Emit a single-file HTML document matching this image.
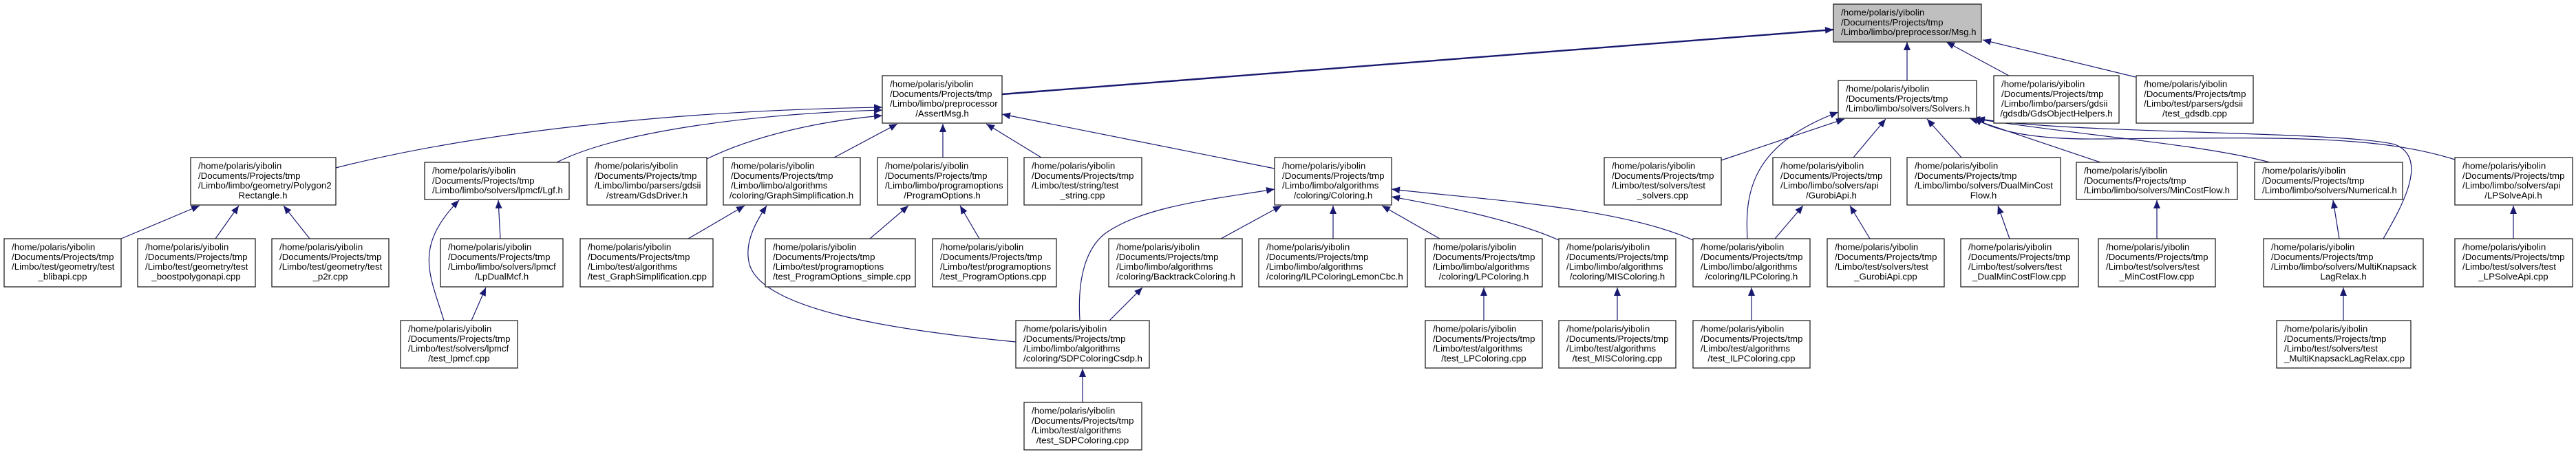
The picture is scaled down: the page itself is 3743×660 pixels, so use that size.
<!DOCTYPE html>
<html><head><meta charset="utf-8"><style>
html,body{margin:0;padding:0;background:#fff;}
svg{display:block;}
text{font-family:"Liberation Sans",Arial,sans-serif;font-size:13.3px;fill:#000;}
rect{fill:#fff;stroke:#222;stroke-width:1.3;}
path.e{fill:none;stroke:#191970;stroke-width:1.2;}
</style></head><body>
<svg width="3743" height="660" viewBox="0 0 3743 660" xmlns="http://www.w3.org/2000/svg">
<defs>
<marker id="a" markerUnits="userSpaceOnUse" markerWidth="12" markerHeight="10" refX="12" refY="5" orient="auto"><path d="M0,0 L12,5 L0,10 z" fill="#191970"/></marker>
</defs>
<g>
<path class="e" d="M1456,137 L2664,43" style="stroke-width:2.4" marker-end="url(#a)"/>
<path class="e" d="M2771,117 L2771,61" marker-end="url(#a)"/>
<path class="e" d="M2919,110 L2828,61" marker-end="url(#a)"/>
<path class="e" d="M3103,112 L2881,58" marker-end="url(#a)"/>
<path class="e" d="M488,244 C700,190 1000,160 1282,156" marker-end="url(#a)"/>
<path class="e" d="M809,236 C900,190 1100,165 1282,160" marker-end="url(#a)"/>
<path class="e" d="M1027,231 C1100,195 1200,175 1282,168" marker-end="url(#a)"/>
<path class="e" d="M1212,229 L1304,180" marker-end="url(#a)"/>
<path class="e" d="M1370,229 L1370,180" marker-end="url(#a)"/>
<path class="e" d="M1513,229 L1433,180" marker-end="url(#a)"/>
<path class="e" d="M1852,245 L1456,166" marker-end="url(#a)"/>
<path class="e" d="M176,347 L290,299" marker-end="url(#a)"/>
<path class="e" d="M313,347 L347,299" marker-end="url(#a)"/>
<path class="e" d="M450,347 L412,299" marker-end="url(#a)"/>
<path class="e" d="M727,347 L724,291" marker-end="url(#a)"/>
<path class="e" d="M645,466 C625,400 600,360 667,291" marker-end="url(#a)"/>
<path class="e" d="M685,466 L706,418" marker-end="url(#a)"/>
<path class="e" d="M1000,347 L1082,299" marker-end="url(#a)"/>
<path class="e" d="M1476,497 C1300,480 1100,450 1088,380 C1082,350 1100,320 1114,299" marker-end="url(#a)"/>
<path class="e" d="M1264,347 L1320,299" marker-end="url(#a)"/>
<path class="e" d="M1423,347 L1395,299" marker-end="url(#a)"/>
<path class="e" d="M1774,347 L1862,299" marker-end="url(#a)"/>
<path class="e" d="M1937,347 L1937,299" marker-end="url(#a)"/>
<path class="e" d="M2092,347 L2008,299" marker-end="url(#a)"/>
<path class="e" d="M2265,349 C2200,320 2100,300 2022,286" marker-end="url(#a)"/>
<path class="e" d="M2460,349 C2350,300 2150,290 2022,275" marker-end="url(#a)"/>
<path class="e" d="M1569,466 C1565,400 1580,360 1605,340 C1660,300 1760,290 1852,275" marker-end="url(#a)"/>
<path class="e" d="M1612,466 L1660,418" marker-end="url(#a)"/>
<path class="e" d="M1573,585 L1573,536" marker-end="url(#a)"/>
<path class="e" d="M2156,466 L2156,418" marker-end="url(#a)"/>
<path class="e" d="M2350,466 L2350,418" marker-end="url(#a)"/>
<path class="e" d="M2545,466 L2545,418" marker-end="url(#a)"/>
<path class="e" d="M2501,233 L2680,173" marker-end="url(#a)"/>
<path class="e" d="M2539,347 C2535,280 2545,210 2671,163" marker-end="url(#a)"/>
<path class="e" d="M2693,229 L2740,173" marker-end="url(#a)"/>
<path class="e" d="M2850,229 L2800,173" marker-end="url(#a)"/>
<path class="e" d="M3052,236 L2862,172" marker-end="url(#a)"/>
<path class="e" d="M3298,236 C3200,210 3050,200 2865,172" marker-end="url(#a)"/>
<path class="e" d="M3567,232 C3450,195 3300,200 3050,202 C2950,203 2900,190 2868,172" marker-end="url(#a)"/>
<path class="e" d="M3463,347 C3490,300 3530,230 3480,210 C3400,190 3000,195 2872,172" marker-end="url(#a)"/>
<path class="e" d="M2579,347 L2620,299" marker-end="url(#a)"/>
<path class="e" d="M2717,347 L2688,299" marker-end="url(#a)"/>
<path class="e" d="M2920,347 L2903,299" marker-end="url(#a)"/>
<path class="e" d="M3134,347 L3134,291" marker-end="url(#a)"/>
<path class="e" d="M3399,347 L3390,291" marker-end="url(#a)"/>
<path class="e" d="M3652,347 L3652,299" marker-end="url(#a)"/>
<path class="e" d="M3405,466 L3405,418" marker-end="url(#a)"/>
</g>

<!-- Row 0 -->
<rect x="2664" y="6" width="215" height="55" style="fill:#bfbfbf"/>
<text x="2675" y="22.5">/home/polaris/yibolin</text><text x="2675" y="36.8">/Documents/Projects/tmp</text><text x="2675" y="51.1">/Limbo/limbo/preprocessor/Msg.h</text>

<!-- Row 1 -->
<rect x="1282" y="110" width="174" height="69"/>
<text x="1293" y="126.5">/home/polaris/yibolin</text><text x="1293" y="140.8">/Documents/Projects/tmp</text><text x="1293" y="155.1">/Limbo/limbo/preprocessor</text><text x="1369" y="169.4" text-anchor="middle">/AssertMsg.h</text>

<rect x="2671" y="117" width="201" height="55"/>
<text x="2682" y="133.5">/home/polaris/yibolin</text><text x="2682" y="147.8">/Documents/Projects/tmp</text><text x="2682" y="162.1">/Limbo/limbo/solvers/Solvers.h</text>

<rect x="2897" y="110" width="182" height="69"/>
<text x="2908" y="126.5">/home/polaris/yibolin</text><text x="2908" y="140.8">/Documents/Projects/tmp</text><text x="2908" y="155.1">/Limbo/limbo/parsers/gdsii</text><text x="2988" y="169.4" text-anchor="middle">/gdsdb/GdsObjectHelpers.h</text>

<rect x="3104" y="110" width="170" height="69"/>
<text x="3115" y="126.5">/home/polaris/yibolin</text><text x="3115" y="140.8">/Documents/Projects/tmp</text><text x="3115" y="155.1">/Limbo/test/parsers/gdsii</text><text x="3189" y="169.4" text-anchor="middle">/test_gdsdb.cpp</text>

<!-- Row 2 -->
<rect x="277" y="229" width="211" height="69"/>
<text x="288" y="245.5">/home/polaris/yibolin</text><text x="288" y="259.8">/Documents/Projects/tmp</text><text x="288" y="274.1">/Limbo/limbo/geometry/Polygon2</text><text x="382" y="288.4" text-anchor="middle">Rectangle.h</text>

<rect x="617" y="236" width="210" height="54"/>
<text x="628" y="252.5">/home/polaris/yibolin</text><text x="628" y="266.8">/Documents/Projects/tmp</text><text x="628" y="281.1">/Limbo/limbo/solvers/lpmcf/Lgf.h</text>

<rect x="853" y="229" width="174" height="69"/>
<text x="864" y="245.5">/home/polaris/yibolin</text><text x="864" y="259.8">/Documents/Projects/tmp</text><text x="864" y="274.1">/Limbo/limbo/parsers/gdsii</text><text x="940" y="288.4" text-anchor="middle">/stream/GdsDriver.h</text>

<rect x="1051" y="229" width="199" height="69"/>
<text x="1062" y="245.5">/home/polaris/yibolin</text><text x="1062" y="259.8">/Documents/Projects/tmp</text><text x="1062" y="274.1">/Limbo/limbo/algorithms</text><text x="1150" y="288.4" text-anchor="middle">/coloring/GraphSimplification.h</text>

<rect x="1275" y="229" width="189" height="69"/>
<text x="1286" y="245.5">/home/polaris/yibolin</text><text x="1286" y="259.8">/Documents/Projects/tmp</text><text x="1286" y="274.1">/Limbo/limbo/programoptions</text><text x="1369" y="288.4" text-anchor="middle">/ProgramOptions.h</text>

<rect x="1488" y="229" width="171" height="69"/>
<text x="1499" y="245.5">/home/polaris/yibolin</text><text x="1499" y="259.8">/Documents/Projects/tmp</text><text x="1499" y="274.1">/Limbo/test/string/test</text><text x="1573" y="288.4" text-anchor="middle">_string.cpp</text>

<rect x="1852" y="229" width="170" height="69"/>
<text x="1863" y="245.5">/home/polaris/yibolin</text><text x="1863" y="259.8">/Documents/Projects/tmp</text><text x="1863" y="274.1">/Limbo/limbo/algorithms</text><text x="1937" y="288.4" text-anchor="middle">/coloring/Coloring.h</text>

<rect x="2331" y="229" width="170" height="69"/>
<text x="2342" y="245.5">/home/polaris/yibolin</text><text x="2342" y="259.8">/Documents/Projects/tmp</text><text x="2342" y="274.1">/Limbo/test/solvers/test</text><text x="2416" y="288.4" text-anchor="middle">_solvers.cpp</text>

<rect x="2576" y="229" width="171" height="69"/>
<text x="2587" y="245.5">/home/polaris/yibolin</text><text x="2587" y="259.8">/Documents/Projects/tmp</text><text x="2587" y="274.1">/Limbo/limbo/solvers/api</text><text x="2661" y="288.4" text-anchor="middle">/GurobiApi.h</text>

<rect x="2771" y="229" width="223" height="69"/>
<text x="2782" y="245.5">/home/polaris/yibolin</text><text x="2782" y="259.8">/Documents/Projects/tmp</text><text x="2782" y="274.1">/Limbo/limbo/solvers/DualMinCost</text><text x="2882" y="288.4" text-anchor="middle">Flow.h</text>

<rect x="3017" y="236" width="234" height="54"/>
<text x="3028" y="252.5">/home/polaris/yibolin</text><text x="3028" y="266.8">/Documents/Projects/tmp</text><text x="3028" y="281.1">/Limbo/limbo/solvers/MinCostFlow.h</text>

<rect x="3276" y="236" width="215" height="54"/>
<text x="3287" y="252.5">/home/polaris/yibolin</text><text x="3287" y="266.8">/Documents/Projects/tmp</text><text x="3287" y="281.1">/Limbo/limbo/solvers/Numerical.h</text>

<rect x="3567" y="229" width="171" height="69"/>
<text x="3578" y="245.5">/home/polaris/yibolin</text><text x="3578" y="259.8">/Documents/Projects/tmp</text><text x="3578" y="274.1">/Limbo/limbo/solvers/api</text><text x="3652" y="288.4" text-anchor="middle">/LPSolveApi.h</text>

<!-- Row 3 -->
<rect x="6" y="347" width="170" height="70"/>
<text x="17" y="363.5">/home/polaris/yibolin</text><text x="17" y="377.8">/Documents/Projects/tmp</text><text x="17" y="392.1">/Limbo/test/geometry/test</text><text x="91" y="406.4" text-anchor="middle">_blibapi.cpp</text>

<rect x="200" y="347" width="171" height="70"/>
<text x="211" y="363.5">/home/polaris/yibolin</text><text x="211" y="377.8">/Documents/Projects/tmp</text><text x="211" y="392.1">/Limbo/test/geometry/test</text><text x="285" y="406.4" text-anchor="middle">_boostpolygonapi.cpp</text>

<rect x="395" y="347" width="170" height="70"/>
<text x="406" y="363.5">/home/polaris/yibolin</text><text x="406" y="377.8">/Documents/Projects/tmp</text><text x="406" y="392.1">/Limbo/test/geometry/test</text><text x="480" y="406.4" text-anchor="middle">_p2r.cpp</text>

<rect x="640" y="347" width="178" height="70"/>
<text x="651" y="363.5">/home/polaris/yibolin</text><text x="651" y="377.8">/Documents/Projects/tmp</text><text x="651" y="392.1">/Limbo/limbo/solvers/lpmcf</text><text x="729" y="406.4" text-anchor="middle">/LpDualMcf.h</text>

<rect x="843" y="347" width="193" height="70"/>
<text x="854" y="363.5">/home/polaris/yibolin</text><text x="854" y="377.8">/Documents/Projects/tmp</text><text x="854" y="392.1">/Limbo/test/algorithms</text><text x="854" y="406.4">/test_GraphSimplification.cpp</text>

<rect x="1112" y="347" width="218" height="70"/>
<text x="1123" y="363.5">/home/polaris/yibolin</text><text x="1123" y="377.8">/Documents/Projects/tmp</text><text x="1123" y="392.1">/Limbo/test/programoptions</text><text x="1123" y="406.4">/test_ProgramOptions_simple.cpp</text>

<rect x="1355" y="347" width="180" height="70"/>
<text x="1366" y="363.5">/home/polaris/yibolin</text><text x="1366" y="377.8">/Documents/Projects/tmp</text><text x="1366" y="392.1">/Limbo/test/programoptions</text><text x="1366" y="406.4">/test_ProgramOptions.cpp</text>

<rect x="1611" y="347" width="194" height="70"/>
<text x="1622" y="363.5">/home/polaris/yibolin</text><text x="1622" y="377.8">/Documents/Projects/tmp</text><text x="1622" y="392.1">/Limbo/limbo/algorithms</text><text x="1622" y="406.4">/coloring/BacktrackColoring.h</text>

<rect x="1829" y="347" width="216" height="70"/>
<text x="1840" y="363.5">/home/polaris/yibolin</text><text x="1840" y="377.8">/Documents/Projects/tmp</text><text x="1840" y="392.1">/Limbo/limbo/algorithms</text><text x="1840" y="406.4">/coloring/ILPColoringLemonCbc.h</text>

<rect x="2071" y="347" width="170" height="70"/>
<text x="2082" y="363.5">/home/polaris/yibolin</text><text x="2082" y="377.8">/Documents/Projects/tmp</text><text x="2082" y="392.1">/Limbo/limbo/algorithms</text><text x="2156" y="406.4" text-anchor="middle">/coloring/LPColoring.h</text>

<rect x="2265" y="347" width="170" height="70"/>
<text x="2276" y="363.5">/home/polaris/yibolin</text><text x="2276" y="377.8">/Documents/Projects/tmp</text><text x="2276" y="392.1">/Limbo/limbo/algorithms</text><text x="2350" y="406.4" text-anchor="middle">/coloring/MISColoring.h</text>

<rect x="2460" y="347" width="170" height="70"/>
<text x="2471" y="363.5">/home/polaris/yibolin</text><text x="2471" y="377.8">/Documents/Projects/tmp</text><text x="2471" y="392.1">/Limbo/limbo/algorithms</text><text x="2545" y="406.4" text-anchor="middle">/coloring/ILPColoring.h</text>

<rect x="2655" y="347" width="170" height="70"/>
<text x="2666" y="363.5">/home/polaris/yibolin</text><text x="2666" y="377.8">/Documents/Projects/tmp</text><text x="2666" y="392.1">/Limbo/test/solvers/test</text><text x="2740" y="406.4" text-anchor="middle">_GurobiApi.cpp</text>

<rect x="2849" y="347" width="171" height="70"/>
<text x="2860" y="363.5">/home/polaris/yibolin</text><text x="2860" y="377.8">/Documents/Projects/tmp</text><text x="2860" y="392.1">/Limbo/test/solvers/test</text><text x="2934" y="406.4" text-anchor="middle">_DualMinCostFlow.cpp</text>

<rect x="3049" y="347" width="170" height="70"/>
<text x="3060" y="363.5">/home/polaris/yibolin</text><text x="3060" y="377.8">/Documents/Projects/tmp</text><text x="3060" y="392.1">/Limbo/test/solvers/test</text><text x="3134" y="406.4" text-anchor="middle">_MinCostFlow.cpp</text>

<rect x="3289" y="347" width="232" height="70"/>
<text x="3300" y="363.5">/home/polaris/yibolin</text><text x="3300" y="377.8">/Documents/Projects/tmp</text><text x="3300" y="392.1">/Limbo/limbo/solvers/MultiKnapsack</text><text x="3405" y="406.4" text-anchor="middle">LagRelax.h</text>

<rect x="3567" y="347" width="171" height="70"/>
<text x="3578" y="363.5">/home/polaris/yibolin</text><text x="3578" y="377.8">/Documents/Projects/tmp</text><text x="3578" y="392.1">/Limbo/test/solvers/test</text><text x="3652" y="406.4" text-anchor="middle">_LPSolveApi.cpp</text>

<!-- Row 4 -->
<rect x="582" y="466" width="170" height="69"/>
<text x="593" y="482.5">/home/polaris/yibolin</text><text x="593" y="496.8">/Documents/Projects/tmp</text><text x="593" y="511.1">/Limbo/test/solvers/lpmcf</text><text x="667" y="525.4" text-anchor="middle">/test_lpmcf.cpp</text>

<rect x="1476" y="466" width="194" height="69"/>
<text x="1487" y="482.5">/home/polaris/yibolin</text><text x="1487" y="496.8">/Documents/Projects/tmp</text><text x="1487" y="511.1">/Limbo/limbo/algorithms</text><text x="1487" y="525.4">/coloring/SDPColoringCsdp.h</text>

<rect x="2071" y="466" width="170" height="69"/>
<text x="2082" y="482.5">/home/polaris/yibolin</text><text x="2082" y="496.8">/Documents/Projects/tmp</text><text x="2082" y="511.1">/Limbo/test/algorithms</text><text x="2156" y="525.4" text-anchor="middle">/test_LPColoring.cpp</text>

<rect x="2265" y="466" width="170" height="69"/>
<text x="2276" y="482.5">/home/polaris/yibolin</text><text x="2276" y="496.8">/Documents/Projects/tmp</text><text x="2276" y="511.1">/Limbo/test/algorithms</text><text x="2350" y="525.4" text-anchor="middle">/test_MISColoring.cpp</text>

<rect x="2460" y="466" width="170" height="69"/>
<text x="2471" y="482.5">/home/polaris/yibolin</text><text x="2471" y="496.8">/Documents/Projects/tmp</text><text x="2471" y="511.1">/Limbo/test/algorithms</text><text x="2545" y="525.4" text-anchor="middle">/test_ILPColoring.cpp</text>

<rect x="3308" y="466" width="195" height="69"/>
<text x="3319" y="482.5">/home/polaris/yibolin</text><text x="3319" y="496.8">/Documents/Projects/tmp</text><text x="3319" y="511.1">/Limbo/test/solvers/test</text><text x="3319" y="525.4">_MultiKnapsackLagRelax.cpp</text>

<!-- Row 5 -->
<rect x="1488" y="585" width="171" height="69"/>
<text x="1499" y="601.5">/home/polaris/yibolin</text><text x="1499" y="615.8">/Documents/Projects/tmp</text><text x="1499" y="630.1">/Limbo/test/algorithms</text><text x="1573" y="644.4" text-anchor="middle">/test_SDPColoring.cpp</text>
</svg>
</body></html>
